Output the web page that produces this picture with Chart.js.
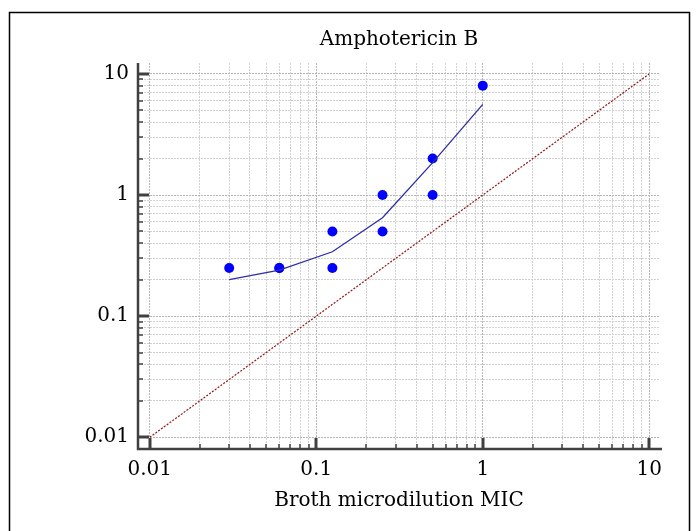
<!DOCTYPE html>
<html>
<head>
<meta charset="utf-8">
<title>Amphotericin B</title>
<script src="https://cdn.jsdelivr.net/npm/chart.js"></script>
<style>
  html, body { margin: 0; padding: 0; background: #fff; }
  #wrap { width: 696px; height: 531px; }
</style>
</head>
<body>
<div id="wrap"><canvas id="mic" width="696" height="531"></canvas></div>
<script>
// --- Data ---
const pointX = [0.03, 0.06, 0.06, 0.125, 0.125, 0.25, 0.25, 0.5, 0.5, 1];
const pointY = [0.25, 0.25, 0.25, 0.5, 0.25, 1, 0.5, 2, 1, 8];
const fitX = [0.03, 0.06, 0.125, 0.25, 0.5, 1];
const fitY = [0.2, 0.24, 0.34, 0.65, 1.85, 5.6];
const identityX = [0.01, 10];
const identityY = [0.01, 10];
const majorTicks = [0.01, 0.1, 1, 10];
const tickLabels = ['0.01', '0.1', '1', '10'];

const FONT = 'DejaVu Serif';
const FSIZE = 20;

// minor ticks 2..9 inside every decade
const allTicks = [];
majorTicks.forEach((m, i) => {
    allTicks.push(m);
    if (i < majorTicks.length - 1) {
        for (let k = 2; k <= 9; k++) allTicks.push(Number((k * m).toPrecision(3)));
    }
});
const isMajor = v => majorTicks.indexOf(v) !== -1;
const toPts = (xs, ys) => xs.map((x, i) => ({ x: x, y: ys[i] }));

// frame around the figure
const framePlugin = {
    id: 'frame',
    beforeDraw(chart) {
        const ctx = chart.ctx;
        ctx.save();
        ctx.strokeStyle = '#000';
        ctx.lineWidth = 1.5;
        ctx.strokeRect(9.5, 12.5, 680, 530);
        ctx.restore();
    }
};

// axis lines and inward tick marks
const axisPlugin = {
    id: 'inwardTicks',
    afterDraw(chart) {
        const ctx = chart.ctx;
        const xs = chart.scales.x, ys = chart.scales.y;
        const a = chart.chartArea;
        ctx.save();
        ctx.strokeStyle = '#404040';
        ctx.lineCap = 'butt';
        xs.ticks.forEach(t => {
            const px = Math.round(xs.getPixelForValue(t.value));
            const major = isMajor(t.value);
            ctx.lineWidth = major ? 3 : 1.5;
            ctx.beginPath();
            ctx.moveTo(px, a.bottom);
            ctx.lineTo(px, a.bottom - (major ? 11 : 5));
            ctx.stroke();
        });
        ys.ticks.forEach(t => {
            const py = Math.round(ys.getPixelForValue(t.value));
            const major = isMajor(t.value);
            ctx.lineWidth = major ? 3 : 1.5;
            ctx.beginPath();
            ctx.moveTo(a.left, py);
            ctx.lineTo(a.left + (major ? 11 : 5), py);
            ctx.stroke();
        });
        ctx.lineWidth = 2.5;
        ctx.beginPath();
        ctx.moveTo(a.left, a.top);
        ctx.lineTo(a.left, a.bottom);
        ctx.lineTo(a.right + 2, a.bottom);
        ctx.stroke();
        ctx.restore();
    }
};

const gridOpts = {
    color: c => (c.tick && isMajor(c.tick.value)) ? '#b4b4b4' : '#d2d2d2',
    lineWidth: 1,
    drawTicks: false
};

const tickFont = { family: FONT, size: FSIZE };

new Chart(document.getElementById('mic'), {
    type: 'scatter',
    data: {
        datasets: [{
            label: 'Identity',
            data: toPts(identityX, identityY),
            showLine: true,
            borderColor: 'rgb(150,20,20)',
            borderWidth: 1.2,
            borderDash: [2, 1.5],
            pointRadius: 0
        }, {
            label: 'Fit',
            data: toPts(fitX, fitY),
            showLine: true,
            borderColor: 'rgb(45,45,165)',
            borderWidth: 1.3,
            pointRadius: 0
        }, {
            label: 'MIC',
            data: toPts(pointX, pointY),
            backgroundColor: '#0000ff',
            borderWidth: 0,
            pointRadius: 5
        }]
    },
    options: {
        responsive: false,
        animation: false,
        layout: { padding: { left: 0, right: 36, top: 0, bottom: 0 } },
        plugins: {
            legend: { display: false },
            tooltip: { enabled: false },
            title: {
                display: true,
                text: 'Amphotericin B',
                fullSize: false,
                color: '#000',
                font: { family: FONT, size: FSIZE, weight: 'normal' },
                padding: { top: 28, bottom: 11 }
            }
        },
        scales: {
            x: {
                type: 'logarithmic',
                min: 0.0085,
                max: 11.6,
                afterBuildTicks: s => { s.ticks = allTicks.map(v => ({ value: v })); },
                afterFit: s => { s.height = 82; },
                grid: gridOpts,
                border: { display: false, dash: [2, 1] },
                ticks: {
                    autoSkip: false,
                    maxRotation: 0,
                    padding: 9,
                    color: '#000',
                    font: tickFont,
                    callback: v => isMajor(v) ? tickLabels[majorTicks.indexOf(v)] : ''
                },
                title: {
                    display: true,
                    text: 'Broth microdilution MIC',
                    color: '#000',
                    font: tickFont,
                    padding: { top: 4, bottom: 18 }
                }
            },
            y: {
                type: 'logarithmic',
                min: 0.008,
                max: 12.3,
                afterBuildTicks: s => { s.ticks = allTicks.map(v => ({ value: v })); },
                afterFit: s => { s.width = 138; },
                grid: gridOpts,
                border: { display: false, dash: [2, 1] },
                ticks: {
                    autoSkip: false,
                    padding: 9,
                    color: '#000',
                    font: tickFont,
                    callback: v => isMajor(v) ? tickLabels[majorTicks.indexOf(v)] : ''
                }
            }
        }
    },
    plugins: [framePlugin, axisPlugin]
});
</script>
</body>
</html>
